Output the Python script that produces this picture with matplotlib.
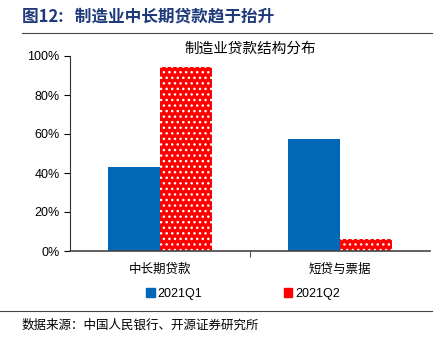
import matplotlib.pyplot as plt
from matplotlib.patches import Patch
import numpy as np

plt.rcParams['font.family'] = ['Noto Sans CJK SC', 'DejaVu Sans']

categories = ["中长期贷款", "短贷与票据"]
q1 = [43.0, 57.5]
q2 = [94.3, 6.2]
series_names = ["2021Q1", "2021Q2"]
yticks = [0, 20, 40, 60, 80, 100]

blue = "#0068B7"
red = "#FF0000"


def main():
    fig = plt.figure(figsize=(4.46, 3.48), dpi=100)
    ax = fig.add_axes([70 / 446, 1 - 251 / 348, 360 / 446, 195 / 348])

    x = np.arange(len(categories))
    w = 0.29
    ax.bar(x - w / 2, q1, w, color=blue)
    ax.bar(x + w / 2, q2, w, color=red, edgecolor="white", linewidth=0,
           hatch="...")

    ax.set_xlim(-0.5, 1.5)
    ax.set_ylim(0, 100)
    ax.set_yticks(yticks)
    ax.set_yticklabels([f"{v}%" for v in yticks], fontsize=9,
                       family="Liberation Sans")
    ax.set_xticks([0.5])
    ax.set_xticklabels([""])
    for xi, c in zip(x, categories):
        ax.text(xi, -6, c, ha="center", va="top", fontsize=9)
    ax.tick_params(axis="x", length=4, width=0.8, colors="#555555")
    ax.tick_params(axis="y", length=4, width=0.8, colors="black")
    for s in ("top", "right"):
        ax.spines[s].set_visible(False)
    ax.spines["left"].set_color("#333333")
    ax.spines["bottom"].set_color("#444444")
    ax.spines["bottom"].set_linewidth(1.2)

    ax.set_title("制造业贷款结构分布", fontsize=10.5, pad=1)

    handles = [Patch(color=blue), Patch(color=red)]
    fig.legend(handles, series_names, loc="center",
               bbox_to_anchor=(243 / 446, 1 - 294 / 348),
               ncol=2, frameon=False, handlelength=0.7,
               handleheight=0.7, handletextpad=0.2, columnspacing=6.5,
               prop={"family": "Liberation Sans", "size": 9})

    # header and footer
    fig.text(22 / 446, 1 - 16 / 348, "图12:   制造业中长期贷款趋于抬升",
             fontsize=12, fontweight="bold", color="#1F3A7A", va="center")
    fig.add_artist(plt.Line2D([22 / 446, 432 / 446], [1 - 33 / 348] * 2,
                              color="#444444", linewidth=0.8))
    fig.add_artist(plt.Line2D([0, 432 / 446], [1 - 311 / 348] * 2,
                              color="#444444", linewidth=0.8))
    fig.text(22 / 446, 1 - 325 / 348, "数据来源：中国人民银行、开源证券研究所",
             fontsize=9, va="center")

    fig.savefig("out.png", dpi=100)


if __name__ == "__main__":
    main()
